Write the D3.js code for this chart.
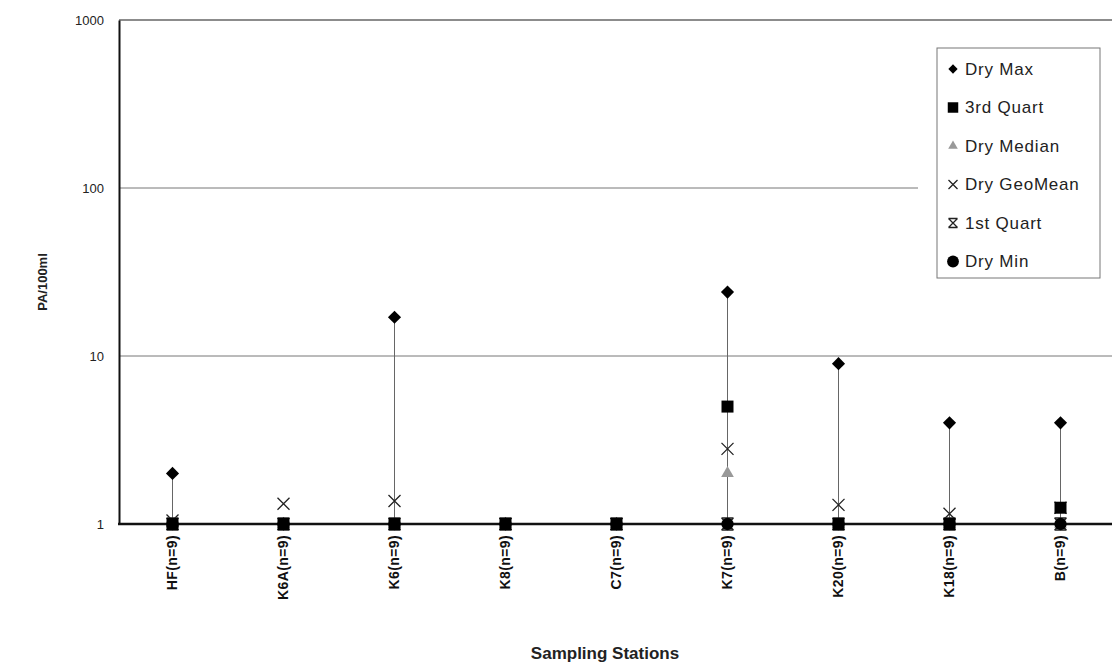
<!DOCTYPE html>
<html>
<head>
<meta charset="utf-8">
<script src="https://cdn.jsdelivr.net/npm/d3@7"></script>
<style>
  body { margin: 0; background: #fff; }
  svg { display: block; font-family: 'Liberation Sans', Arial, sans-serif; }
</style>
</head>
<body>
<div id="chart"></div>
<script>
const width = 1112;
const height = 668;

// stations and their series
const stations = ['HF(n=9)', 'K6A(n=9)', 'K6(n=9)', 'K8(n=9)', 'C7(n=9)', 'K7(n=9)', 'K20(n=9)', 'K18(n=9)', 'B(n=9)'];
const dryMax = [2, 1, 17, 1, 1, 24, 9, 4, 4];
const thirdQuart = [1, 1, 1, 1, 1, 5, 1, 1, 1.25];
const dryMedian = [1, 1, 1, 1, 1, 2, 1, 1, 1];
const dryGeoMean = [1.05, 1.32, 1.37, 1, 1, 2.8, 1.3, 1.15, 1.25];
const firstQuart = [1, 1, 1, 1, 1, 1, 1, 1, 1];
const dryMin = [1, 1, 1, 1, 1, 1, 1, 1, 1];
const yTicks = [1, 10, 100, 1000];

const legendNames = ['Dry Max', '3rd Quart', 'Dry Median', 'Dry GeoMean', '1st Quart', 'Dry Min'];

const plot = { left: 119, top: 20, bottom: 524, right: 1112 };

const svg = d3.select('#chart').append('svg')
  .attr('width', width)
  .attr('height', height);

const x = d3.scaleBand()
  .domain(stations)
  .range([117, 117 + 111 * stations.length]);

const y = d3.scaleLog()
  .domain([1, 1000])
  .range([plot.bottom, plot.top]);

const cx = d => x(d) + x.bandwidth() / 2;

// gridlines (the 100 line stops at the legend)
svg.append('g').selectAll('line')
  .data(yTicks.filter(t => t > 1 && t < 1000))
  .enter()
  .append('line')
  .attr('x1', plot.left)
  .attr('x2', t => (t === 100 ? 918 : plot.right))
  .attr('y1', t => y(t))
  .attr('y2', t => y(t))
  .attr('stroke', '#777')
  .attr('stroke-width', 1);

// top border
svg.append('line')
  .attr('x1', plot.left).attr('x2', plot.right)
  .attr('y1', y(1000)).attr('y2', y(1000))
  .attr('stroke', '#666').attr('stroke-width', 1.4);

// y axis
const yAxis = d3.axisLeft(y).tickValues(yTicks).tickFormat(d3.format('d')).tickSize(0).tickPadding(15);
const gy = svg.append('g').attr('transform', `translate(${plot.left},0)`).call(yAxis);
gy.select('.domain').attr('stroke', '#111').attr('stroke-width', 2);
gy.selectAll('text').attr('font-size', 13).attr('fill', '#222')
  .attr('font-family', "'Liberation Sans', Arial, sans-serif");

// x axis
const xAxis = d3.axisBottom(x).tickSize(0).tickPadding(0);
const gx = svg.append('g').attr('transform', `translate(0,${plot.bottom})`).call(xAxis);
gx.select('.domain').remove();
gx.selectAll('text')
  .attr('font-size', 14)
  .attr('font-weight', 'bold')
  .attr('letter-spacing', 0.4)
  .attr('fill', '#111')
  .attr('font-family', "'Liberation Sans', Arial, sans-serif")
  .attr('text-anchor', 'end')
  .attr('transform', 'rotate(-90)')
  .attr('x', -11)
  .attr('y', 0)
  .attr('dy', '0.35em');

svg.append('line')
  .attr('x1', plot.left - 1).attr('x2', plot.right)
  .attr('y1', plot.bottom).attr('y2', plot.bottom)
  .attr('stroke', '#111').attr('stroke-width', 2.5);

// axis titles
svg.append('text')
  .attr('transform', `translate(47,${(y(1) + y(1000)) / 2 + 10}) rotate(-90)`)
  .attr('text-anchor', 'middle')
  .attr('font-size', 13)
  .attr('font-weight', 'bold')
  .attr('fill', '#222')
  .text('PA/100ml');

svg.append('text')
  .attr('x', 605)
  .attr('y', 659)
  .attr('text-anchor', 'middle')
  .attr('font-size', 17)
  .attr('font-weight', 'bold')
  .attr('fill', '#222')
  .text('Sampling Stations');

// high-low lines
svg.append('g').selectAll('line')
  .data(stations)
  .enter()
  .append('line')
  .attr('x1', d => cx(d))
  .attr('x2', d => cx(d))
  .attr('y1', (d, i) => y(dryMin[i]))
  .attr('y2', (d, i) => y(dryMax[i]))
  .attr('stroke', '#666')
  .attr('stroke-width', 1);

// marker shapes
const sym = {
  diamond: d3.symbol().type(d3.symbolDiamond2).size(110),
  square: d3.symbol().type(d3.symbolSquare).size(144),
  triangle: d3.symbol().type(d3.symbolTriangle).size(70),
  circle: d3.symbol().type(d3.symbolCircle).size(120),
};

function drawCross(g, px, py, r, bars) {
  g.append('path')
    .attr('d', `M${px - r},${py - r}L${px + r},${py + r}M${px - r},${py + r}L${px + r},${py - r}` +
      (bars ? `M${px - r},${py - r}L${px + r},${py - r}M${px - r},${py + r}L${px + r},${py + r}` : ''))
    .attr('stroke', '#222')
    .attr('stroke-width', 1.3)
    .attr('fill', 'none');
}

function drawSeries(values, kind) {
  const g = svg.append('g');
  stations.forEach((s, i) => {
    const px = cx(s);
    const py = y(values[i]);
    if (kind === 'cross' || kind === 'star') {
      drawCross(g, px, py, 6, kind === 'star');
    } else {
      g.append('path')
        .attr('d', sym[kind]())
        .attr('transform', `translate(${px},${py})`)
        .attr('fill', kind === 'triangle' ? '#999' : '#000');
    }
  });
}

drawSeries(dryMedian, 'triangle');
drawSeries(dryGeoMean, 'cross');
drawSeries(firstQuart, 'star');
drawSeries(dryMin, 'circle');
drawSeries(thirdQuart, 'square');
drawSeries(dryMax, 'diamond');

// legend
const legend = svg.append('g');
legend.append('rect')
  .attr('x', 937).attr('y', 48)
  .attr('width', 163).attr('height', 230)
  .attr('fill', '#fff')
  .attr('stroke', '#777').attr('stroke-width', 1);

const legendKinds = ['diamond', 'square', 'triangle', 'cross', 'star', 'circle'];
const legendSym = {
  diamond: d3.symbol().type(d3.symbolDiamond2).size(55),
  square: d3.symbol().type(d3.symbolSquare).size(110),
  triangle: d3.symbol().type(d3.symbolTriangle).size(40),
  circle: d3.symbol().type(d3.symbolCircle).size(110),
};
legendNames.forEach((name, i) => {
  const ly = 69 + i * 38.5;
  const kind = legendKinds[i];
  if (kind === 'cross' || kind === 'star') {
    drawCross(legend, 953, ly, 4.5, kind === 'star');
  } else {
    legend.append('path')
      .attr('d', legendSym[kind]())
      .attr('transform', `translate(953,${ly})`)
      .attr('fill', kind === 'triangle' ? '#999' : '#000');
  }
  legend.append('text')
    .attr('x', 965)
    .attr('y', ly)
    .attr('dy', '0.35em')
    .attr('font-size', 17)
    .attr('letter-spacing', 0.8)
    .attr('fill', '#222')
    .text(name);
});
</script>
</body>
</html>
